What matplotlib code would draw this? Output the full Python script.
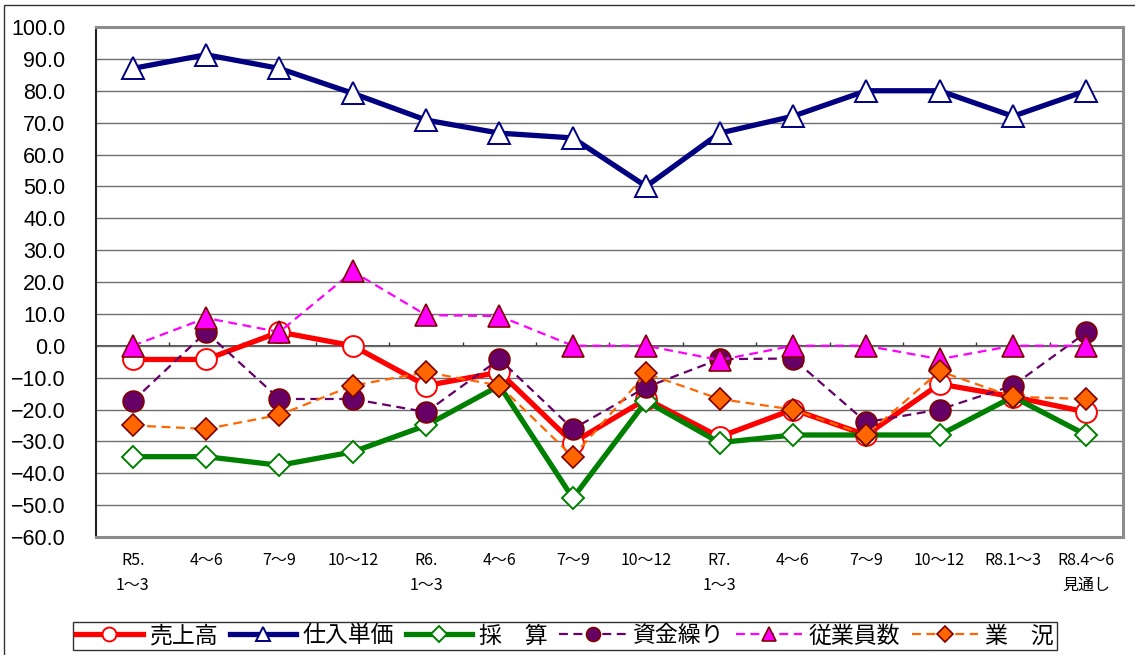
import numpy as np
import matplotlib
matplotlib.use("Agg")
import matplotlib.pyplot as plt
from matplotlib.patches import Rectangle
from matplotlib.ticker import FixedLocator, FuncFormatter

plt.rcParams['font.family'] = ['Noto Sans CJK JP', 'DejaVu Sans']

# ---- data ----
categories = ["R5.\n1～3", "4～6", "7～9", "10～12",
              "R6.\n1～3", "4～6", "7～9", "10～12",
              "R7.\n1～3", "4～6", "7～9", "10～12",
              "R8.1～3", "R8.4～6\n見通し"]

uriage   = [-4.3, -4.3, 4.3, 0.0, -12.5, -8.3, -30.4, -16.7, -28.6, -20.0, -28.0, -12.0, -16.0, -20.8]
shiire   = [87.0, 91.3, 87.0, 79.2, 70.8, 66.7, 65.2, 50.0, 66.7, 72.0, 80.0, 80.0, 72.0, 80.0]
saisan   = [-34.8, -34.8, -37.5, -33.3, -25.0, -12.5, -47.8, -17.4, -30.4, -28.0, -28.0, -28.0, -16.0, -28.0]
shikin   = [-17.4, 4.3, -16.7, -16.7, -20.8, -4.2, -26.1, -13.0, -4.2, -4.0, -24.0, -20.0, -12.5, 4.2]
jugyoin  = [0.0, 8.7, 4.3, 23.3, 9.6, 9.3, 0.0, 0.0, -4.5, 0.0, 0.0, -4.2, 0.0, 0.0]
gyokyo   = [-25.0, -26.1, -21.7, -12.5, -8.3, -12.5, -34.8, -8.7, -16.7, -20.0, -28.0, -8.0, -16.0, -16.7]

labels = ["売上高", "仕入単価", "採　算", "資金繰り", "従業員数", "業　況"]

# ---- figure ----
fig = plt.figure(figsize=(11.35, 6.55), dpi=100)
ax = fig.add_axes([96/1135, 1 - 537/655, 1027/1135, 510/655])

x = np.arange(len(categories))
dk = '#800000'
dash = (0, (4, 2.5))

ax.plot(x, uriage, color='#FF0000', lw=3.8, marker='o', ms=15,
        mfc='white', mec='#FF0000', mew=1.4, label=labels[0], zorder=3)
ax.plot(x, shiire, color='#000080', lw=3.8, marker='^', ms=16,
        mfc='white', mec='#000080', mew=1.4, label=labels[1], zorder=4)
ax.plot(x, saisan, color='#008000', lw=3.8, marker='D', ms=11.5,
        mfc='white', mec='#008000', mew=1.4, label=labels[2], zorder=5)
ax.plot(x, shikin, color='#660066', lw=1.6, ls=dash, marker='o', ms=15,
        mfc='#660066', mec=dk, mew=1.2, label=labels[3], zorder=6)
ax.plot(x, jugyoin, color='#FF00FF', lw=1.6, ls=dash, marker='^', ms=16,
        mfc='#FF00FF', mec=dk, mew=1.2, label=labels[4], zorder=7)
ax.plot(x, gyokyo, color='#FF6600', lw=1.6, ls=dash, marker='D', ms=11.5,
        mfc='#FF6600', mec=dk, mew=1.2, label=labels[5], zorder=8)

# axes & grid
ax.set_xlim(-0.5, len(categories) - 0.5)
ax.set_ylim(-60, 100)
ax.yaxis.set_major_locator(FixedLocator(np.arange(-60, 101, 10)))
ax.yaxis.set_major_formatter(FuncFormatter(lambda v, p: f"{v:.1f}".replace("-", "\u2212")))
ax.grid(axis='y', color='#6E6E6E', lw=1.0, zorder=0)
ax.axhline(0, color='#333333', lw=1.2, zorder=1)
# category boundary ticks on the zero line
ax.vlines(np.arange(0.5, len(categories) - 0.5), 0, 1.3, color='#333333', lw=1.0, zorder=1)

ax.set_xticks(x)
ax.set_xticklabels(categories, fontsize=11.5, linespacing=1.6, va='top')
ax.tick_params(axis='x', length=0, pad=11)
ax.tick_params(axis='y', length=0, pad=22)
for t in ax.get_yticklabels():
    t.set_fontfamily('Liberation Sans')
    t.set_fontsize(15.5)

for s in ['top', 'right', 'bottom']:
    ax.spines[s].set_color('#8C8C8C')
    ax.spines[s].set_linewidth(2.2)
ax.spines['left'].set_color('#222222')
ax.spines['left'].set_linewidth(1.5)

leg = fig.legend(loc='center', bbox_to_anchor=(565/1135, 1 - 636/655), ncol=6,
                 fontsize=16.5, frameon=True, fancybox=False, edgecolor='black',
                 handlelength=2.9, handletextpad=0.3, columnspacing=0.5,
                 borderpad=0.12, borderaxespad=0)
leg.get_frame().set_linewidth(1.0)
for h in leg.legend_handles:
    h.set_markersize(10 if h.get_marker() != 'D' else 8)

# chart area border
fig.patches.append(Rectangle((4/1135, -0.1), 1.2, 1.1 - 5/655, transform=fig.transFigure,
                             fill=False, edgecolor='#333333', lw=1.0))

fig.savefig("out.png", dpi=100)
